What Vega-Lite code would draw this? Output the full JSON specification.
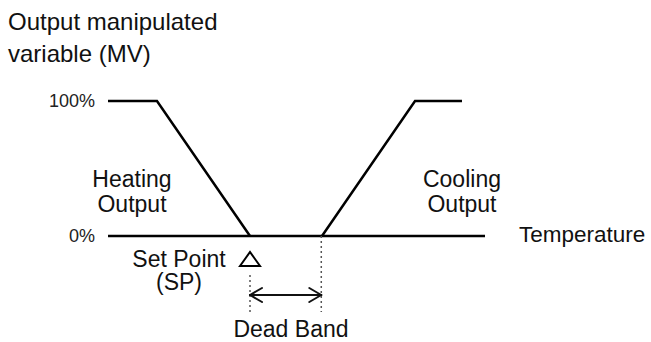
{
  "$schema": "https://vega.github.io/schema/vega-lite/v6.json",
  "width": 651,
  "height": 342,
  "autosize": {"type": "fit", "contains": "padding"},
  "padding": 0,
  "background": "white",
  "config": {"view": {"stroke": null}, "font": "Liberation Sans"},
  "encoding": {
    "x": {"field": "x", "type": "quantitative", "scale": {"domain": [-34.722, 55.694], "nice": false, "zero": false}, "axis": null},
    "y": {"field": "y", "type": "quantitative", "scale": {"domain": [-78.519, 174.815], "nice": false, "zero": false}, "axis": null}
  },
  "layer": [
    {
      "data": {"values": [
        {"s": "heating", "o": 1, "x": -19.72, "y": 100},
        {"s": "heating", "o": 2, "x": -12.92, "y": 100},
        {"s": "heating", "o": 3, "x": 0, "y": 0},
        {"s": "zero", "o": 1, "x": -19.72, "y": 0},
        {"s": "zero", "o": 2, "x": 32.64, "y": 0},
        {"s": "cooling", "o": 1, "x": 10, "y": 0},
        {"s": "cooling", "o": 2, "x": 22.92, "y": 100},
        {"s": "cooling", "o": 3, "x": 29.44, "y": 100}
      ]},
      "mark": {"type": "line", "color": "black", "strokeWidth": 2.5, "strokeJoin": "miter"},
      "encoding": {"detail": {"field": "s"}, "order": {"field": "o"}}
    },
    {
      "data": {"values": [
        {"x": 0, "y": -28.89, "x2": 0, "y2": -56.3},
        {"x": 9.9, "y": 0, "x2": 9.9, "y2": -56.3}
      ]},
      "mark": {"type": "rule", "strokeDash": [2, 3], "strokeWidth": 1.5, "color": "#555555"},
      "encoding": {"x2": {"field": "x2"}, "y2": {"field": "y2"}}
    },
    {
      "data": {"values": [
        {"x": 0, "y": -43.7, "x2": 9.9, "y2": -43.7},
        {"x": 1.667, "y": -38.52, "x2": 0, "y2": -43.7},
        {"x": 1.667, "y": -48.89, "x2": 0, "y2": -43.7},
        {"x": 8.233, "y": -38.52, "x2": 9.9, "y2": -43.7},
        {"x": 8.233, "y": -48.89, "x2": 9.9, "y2": -43.7}
      ]},
      "mark": {"type": "rule", "strokeWidth": 2, "color": "#111111", "strokeCap": "round"},
      "encoding": {"x2": {"field": "x2"}, "y2": {"field": "y2"}}
    },
    {
      "data": {"values": [{"x": 0, "y": -17.04}]},
      "mark": {"type": "point", "shape": "M-1,0.7L0,-0.7L1,0.7Z", "size": 400, "filled": false, "stroke": "black", "strokeWidth": 2, "opacity": 1}
    },
    {
      "data": {"values": [
        {"x": -21.53, "y": 98.89, "t": "100%"},
        {"x": -21.53, "y": -0.74, "t": "0%"}
      ]},
      "mark": {"type": "text", "align": "right", "baseline": "middle", "fontSize": 18, "color": "#222222"},
      "encoding": {"text": {"field": "t"}}
    },
    {
      "data": {"values": [
        {"x": -33.61, "y": 152.59, "t": "Output manipulated"},
        {"x": -33.61, "y": 128.89, "t": "variable (MV)"}
      ]},
      "mark": {"type": "text", "align": "left", "baseline": "alphabetic", "fontSize": 24, "color": "#111111"},
      "encoding": {"text": {"field": "t"}}
    },
    {
      "data": {"values": [
        {"x": 37.36, "y": -4.44, "t": "Temperature"}
      ]},
      "mark": {"type": "text", "align": "left", "baseline": "alphabetic", "fontSize": 22.5, "color": "#111111"},
      "encoding": {"text": {"field": "t"}}
    },
    {
      "data": {"values": [
        {"x": -16.39, "y": 36.3, "t": "Heating"},
        {"x": -16.39, "y": 17.41, "t": "Output"},
        {"x": 29.44, "y": 36.52, "t": "Cooling"},
        {"x": 29.44, "y": 18.0, "t": "Output"},
        {"x": 5.69, "y": -74.81, "t": "Dead Band"}
      ]},
      "mark": {"type": "text", "align": "center", "baseline": "alphabetic", "fontSize": 23, "color": "#111111"},
      "encoding": {"text": {"field": "t"}}
    },
    {
      "data": {"values": [
        {"x": -9.86, "y": -22.74, "t": ["Set Point", "(SP)"]}
      ]},
      "mark": {"type": "text", "align": "center", "baseline": "alphabetic", "fontSize": 23, "lineHeight": 23.5, "color": "#111111"},
      "encoding": {"text": {"field": "t"}}
    }
  ]
}
